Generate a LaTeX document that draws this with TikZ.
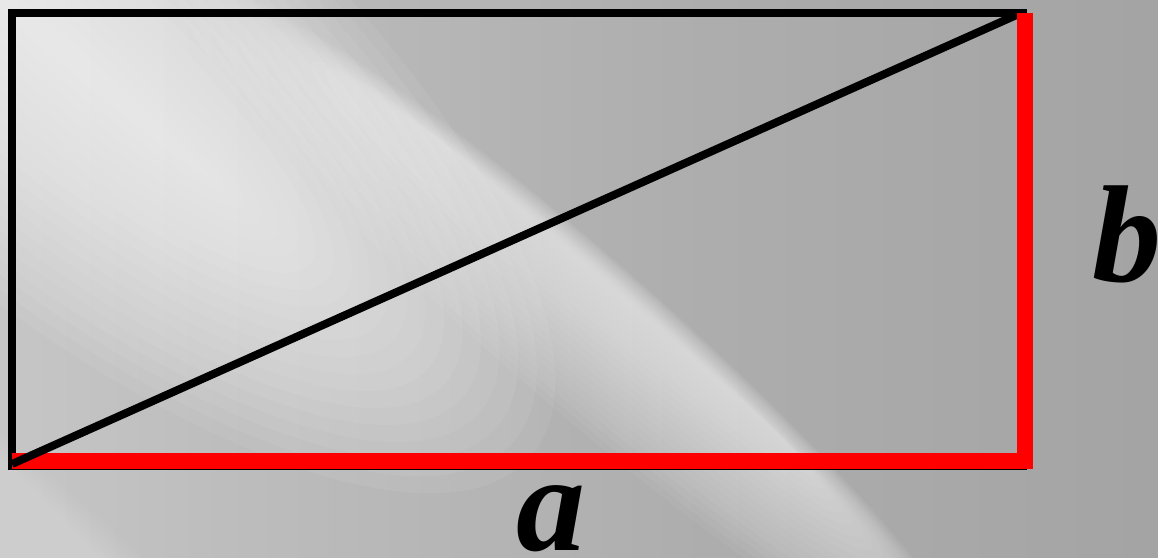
\documentclass[tikz,border=0pt]{standalone}
\usepackage{fontspec}
\setmainfont{Liberation Serif}
\usetikzlibrary{calc}
\definecolor{g225}{gray}{0.87}
\definecolor{g190}{gray}{0.74}
\definecolor{g175}{gray}{0.68}
\definecolor{g155}{gray}{0.595}
\pgfdeclarehorizontalshading{bgshade}{100bp}{color(0bp)=(g225); color(35bp)=(g190); color(55bp)=(g175); color(100bp)=(g155)}
\tikzset{
  frame/.style={draw=black, line width=8pt},
  diag/.style={draw=black, line width=8pt},
  redside/.style={draw=red, line width=16pt},
  lbl/.style={inner sep=0pt, font=\bfseries\itshape\fontsize{138}{140}\selectfont}
}
\begin{document}
\begin{tikzpicture}[x=1pt,y=-1pt]
\useasboundingbox (0,0) rectangle (1158,557);
\begin{scope}
  \clip (0,0) rectangle (1158,557);
  \shade[shading=bgshade] (0,0) rectangle (1158,557);
  % soft light streaks running down-right, built from nested translucent ellipses
  % centre x / centre y / min half-length / max half-length / lower-left width / upper-right width / opacity
  \foreach \cx/\cy/\la/\lb/\w/\e/\op in {610/285/220/520/130/22/0.045, 40/30/200/650/240/240/0.06, 40/545/100/420/90/60/0.02} {
    \foreach \k in {1,...,20} {
      \pgfmathsetmacro{\t}{\k/20}
      \pgfmathsetmacro{\L}{\la+(\lb-\la)*\t}
      \pgfmathsetmacro{\R}{(\w+\e)*\t/2}
      \pgfmathsetmacro{\S}{(\w-\e)*\t/2}
      \coordinate (sc) at ($(\cx,\cy)+(131:\S)$);
      \fill[white, fill opacity=\op, shift={(sc)}, rotate=-41]
        (0,0) ellipse [x radius=\L, y radius=\R];
    }
  }
\end{scope}
% geometry
\coordinate (TL) at (12,12.5);
\coordinate (BR) at (1023,466);
\coordinate (BL) at (12,464);
\coordinate (TR) at (1021,13);
\coordinate (RB0) at (12,461);
\coordinate (RB1) at (1033,461);
\coordinate (RV0) at (1025,13);
\coordinate (RV1) at (1025,469);
\draw[frame] (TL) rectangle (BR);
\draw[redside] (RB0) -- (RB1);
\draw[diag] (BL) -- (TR);
\draw[redside] (RV0) -- (RV1);
\node[lbl, anchor=base west] (b) at (1092,281) {b};
\node[lbl, anchor=base] (a) at (551,550) {a};
\end{tikzpicture}
\end{document}
